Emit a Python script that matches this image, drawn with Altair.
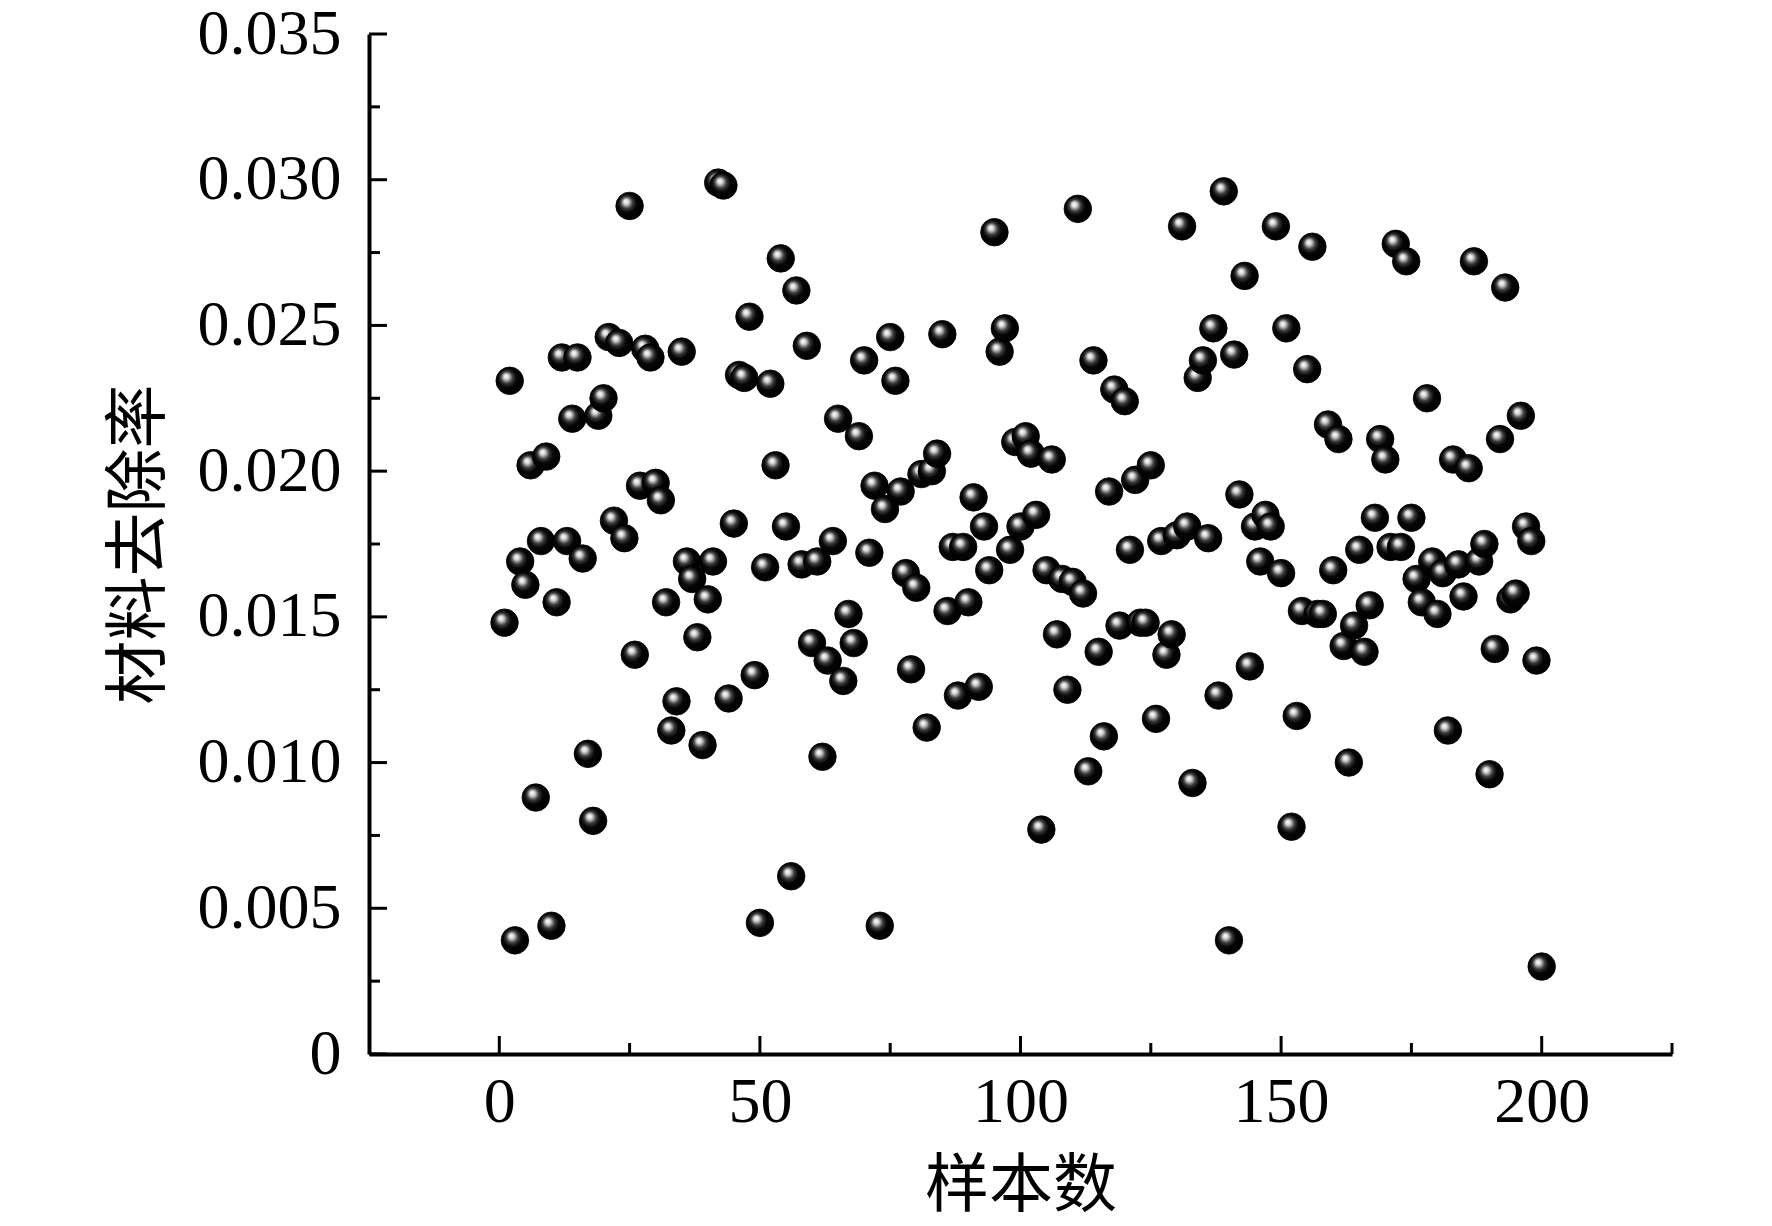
import altair as alt
import pandas as pd

sample = list(range(1, 201))
rate = [
    0.0148, 0.0231, 0.0039, 0.0169, 0.0161, 0.0202, 0.0088, 0.0176, 0.0205, 0.0044,
    0.0155, 0.0239, 0.0176, 0.0218, 0.0239, 0.0170, 0.0103, 0.0080, 0.0219, 0.0225,
    0.0246, 0.0183, 0.0244, 0.0177, 0.0291, 0.0137, 0.0195, 0.0242, 0.0239, 0.0196,
    0.0190, 0.0155, 0.0111, 0.0121, 0.0241, 0.0169, 0.0163, 0.0143, 0.0106, 0.0156,
    0.0169, 0.0299, 0.0298, 0.0122, 0.0182, 0.0233, 0.0232, 0.0253, 0.0130, 0.0045,
    0.0167, 0.0230, 0.0202, 0.0273, 0.0181, 0.0061, 0.0262, 0.0168, 0.0243, 0.0141,
    0.0169, 0.0102, 0.0135, 0.0176, 0.0218, 0.0128, 0.0151, 0.0141, 0.0212, 0.0238,
    0.0172, 0.0195, 0.0044, 0.0187, 0.0246, 0.0231, 0.0193, 0.0165, 0.0132, 0.0160,
    0.0199, 0.0112, 0.0200, 0.0206, 0.0247, 0.0152, 0.0174, 0.0123, 0.0174, 0.0155,
    0.0191, 0.0126, 0.0181, 0.0166, 0.0282, 0.0241, 0.0249, 0.0173, 0.0210, 0.0181,
    0.0212, 0.0206, 0.0185, 0.0077, 0.0166, 0.0204, 0.0144, 0.0163, 0.0125, 0.0162,
    0.0290, 0.0158, 0.0097, 0.0238, 0.0138, 0.0109, 0.0193, 0.0228, 0.0147, 0.0224,
    0.0173, 0.0197, 0.0148, 0.0148, 0.0202, 0.0115, 0.0176, 0.0137, 0.0144, 0.0178,
    0.0284, 0.0181, 0.0093, 0.0232, 0.0238, 0.0177, 0.0249, 0.0123, 0.0296, 0.0039,
    0.0240, 0.0192, 0.0267, 0.0133, 0.0181, 0.0169, 0.0185, 0.0181, 0.0284, 0.0165,
    0.0249, 0.0078, 0.0116, 0.0152, 0.0235, 0.0277, 0.0151, 0.0151, 0.0216, 0.0166,
    0.0211, 0.0140, 0.0100, 0.0147, 0.0173, 0.0138, 0.0154, 0.0184, 0.0211, 0.0204,
    0.0174, 0.0278, 0.0174, 0.0272, 0.0184, 0.0163, 0.0155, 0.0225, 0.0169, 0.0151,
    0.0165, 0.0111, 0.0204, 0.0168, 0.0157, 0.0201, 0.0272, 0.0169, 0.0175, 0.0096,
    0.0139, 0.0211, 0.0263, 0.0156, 0.0158, 0.0219, 0.0181, 0.0176, 0.0135, 0.0030,
]

x_major = [0, 50, 100, 150, 200]
x_minor = [25, 75, 125, 175, 225]
y_major = [0.0, 0.005, 0.010, 0.015, 0.020, 0.025, 0.030, 0.035]
y_minor = [0.0025, 0.0075, 0.0125, 0.0175, 0.0225, 0.0275, 0.0325]

W, H = 1303, 1020
df = pd.DataFrame({"sample": sample, "rate": rate})

xs = alt.Scale(domain=[-25, 225], nice=False, zero=False)
ys = alt.Scale(domain=[0, 0.035], nice=False, zero=False)

x_axis = alt.Axis(title="样本数", values=x_major, format="d", ticks=False, tickSize=0,
                  grid=False, labelFont="Liberation Serif", labelFontSize=64,
                  labelColor="#000000", labelPadding=16, domainColor="#000000",
                  domainWidth=4, titleFont="Noto Sans CJK SC", titleFontSize=64,
                  titleFontWeight="normal", titleColor="#000000",
                  titleX=W / 2, titleY=132, titleAlign="center", titleBaseline="middle")
y_axis = alt.Axis(title="材料去除率", values=y_major, ticks=False, tickSize=0,
                  labelExpr="datum.value == 0 ? '0' : format(datum.value, '.3f')",
                  grid=False, labelFont="Liberation Serif", labelFontSize=64,
                  labelColor="#000000", labelPadding=28, domainColor="#000000",
                  domainWidth=4, labelBaseline="middle",
                  titleFont="Noto Sans CJK SC", titleFontSize=64,
                  titleFontWeight="normal", titleColor="#000000", titleAngle=270,
                  titleX=-230, titleY=H / 2, titleAlign="center", titleBaseline="middle")

ball = alt.RadialGradient(
    gradient="radial",
    x1=0.36, y1=0.33, r1=0.0,
    x2=0.45, y2=0.45, r2=0.55,
    stops=[
        alt.GradientStop(offset=0.0, color="#ffffff"),
        alt.GradientStop(offset=0.16, color="#d8d8d8"),
        alt.GradientStop(offset=0.4, color="#3a3a3a"),
        alt.GradientStop(offset=0.62, color="#050505"),
        alt.GradientStop(offset=1.0, color="#000000"),
    ],
)

points = alt.Chart(df).mark_circle(size=760, opacity=1, fill=ball, stroke="#000000", strokeWidth=0.8).encode(
    x=alt.X("sample:Q", scale=xs, axis=x_axis),
    y=alt.Y("rate:Q", scale=ys, axis=y_axis),
)

def xticks(vals, length):
    return alt.Chart(pd.DataFrame({"sample": vals})).mark_rule(color="#000000", strokeWidth=3).encode(
        x=alt.X("sample:Q", scale=xs, axis=x_axis),
        y=alt.value(H),
        y2=alt.value(H - length),
    )

def yticks(vals, length):
    return alt.Chart(pd.DataFrame({"rate": vals})).mark_rule(color="#000000", strokeWidth=3).encode(
        y=alt.Y("rate:Q", scale=ys, axis=y_axis),
        x=alt.value(0),
        x2=alt.value(length),
    )

chart = alt.layer(
    points, xticks(x_major, 18), xticks(x_minor, 11), yticks(y_major, 18), yticks(y_minor, 11)
).properties(
    width=W, height=H,
    autosize=alt.AutoSizeParams(type="none"),
    padding={"left": 361, "top": 26, "right": 90, "bottom": 170},
    background="#ffffff",
).configure_view(stroke=None)

chart.save("out.html", embed_options={"renderer": "svg", "actions": False})
